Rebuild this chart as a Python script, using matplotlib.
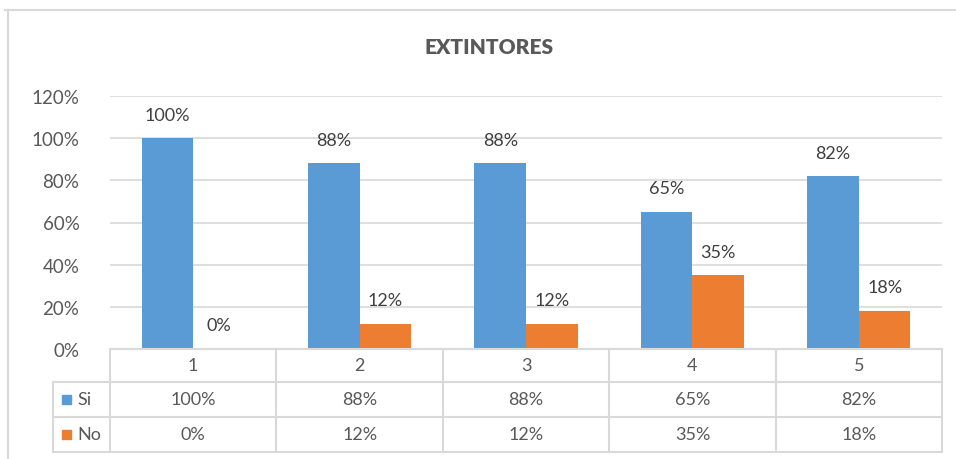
import numpy as np
import matplotlib.pyplot as plt
from matplotlib.patches import Rectangle
from matplotlib.lines import Line2D
import matplotlib.transforms as mtrans

plt.rcParams['font.family'] = ['Lato', 'DejaVu Sans']

# --- datos ---
categorias = ['1', '2', '3', '4', '5']
si = [1.00, 0.88, 0.88, 0.65, 0.82]
no = [0.00, 0.12, 0.12, 0.35, 0.18]
series = ['Si', 'No']
titulo = 'EXTINTORES'

azul = '#5B9BD5'
naranja = '#ED7D31'
gris = '#D9D9D9'
texto = '#595959'
W, H = 956, 460
fs = 13

fig = plt.figure(figsize=(W / 100, H / 100), dpi=100)

def fx(px):
    return px / W

def fy(py):
    return 1 - py / H

# area del grafico (pixeles de la referencia)
x0, x1, y0, y1 = 110, 942, 350, 97
ax = fig.add_axes([fx(x0), fy(y0), fx(x1 - x0), fy(y1) - fy(y0)])

x = np.arange(len(categorias))
ancho = 0.31
b1 = ax.bar(x - ancho / 2, si, ancho, color=azul, zorder=3)
b2 = ax.bar(x + ancho / 2, no, ancho, color=naranja, zorder=3)

for barras, vals in [(b1, si), (b2, no)]:
    for rect, v in zip(barras, vals):
        ax.annotate(f'{v:.0%}', (rect.get_x() + rect.get_width() / 2, v),
                    xytext=(0, 17), textcoords='offset points',
                    ha='center', va='center', fontsize=fs, color='#404040')

ax.set_xlim(-0.5, len(categorias) - 0.5)
ax.set_ylim(0, 1.2)
ax.set_yticks(np.arange(0, 1.21, 0.2))
ax.set_yticklabels([f'{t:.0%}' for t in np.arange(0, 1.21, 0.2)])
ax.tick_params(axis='y', length=0, pad=22, labelsize=13.5, labelcolor=texto)
ax.set_xticks([])
ax.grid(axis='y', color=gris, linewidth=1.2, zorder=0)
for s in ax.spines.values():
    s.set_visible(False)

fig.text(fx(489), fy(48), titulo, ha='center', va='center',
         fontsize=15, fontweight='heavy', color=texto)

# --- tabla de datos ---
tr = mtrans.blended_transform_factory(ax.transData, fig.transFigure)
r0, r1, r2, r3 = 350, 383, 418, 453
xl = -0.5 - (x0 - 53) / ((x1 - x0) / len(categorias))  # borde izquierdo leyenda
bordes = np.arange(len(categorias) + 1) - 0.5

def hline(xa, xb, py):
    fig.add_artist(Line2D([xa, xb], [fy(py), fy(py)], transform=tr,
                          color=gris, linewidth=1.5))

def vline(xv, pa, pb):
    fig.add_artist(Line2D([xv, xv], [fy(pa), fy(pb)], transform=tr,
                          color=gris, linewidth=1.5))

hline(bordes[0], bordes[-1], r0)
for py in (r1, r2, r3):
    hline(xl, bordes[-1], py)
for b in bordes:
    vline(b, r0, r3)
vline(xl, r1, r3)

for i, c in enumerate(categorias):
    fig.text(i, fy((r0 + r1) / 2), c, transform=tr, ha='center', va='center',
             fontsize=fs, color=texto)
    fig.text(i, fy((r1 + r2) / 2), f'{si[i]:.0%}', transform=tr, ha='center',
             va='center', fontsize=fs, color=texto)
    fig.text(i, fy((r2 + r3) / 2), f'{no[i]:.0%}', transform=tr, ha='center',
             va='center', fontsize=fs, color=texto)

for nombre, col, (pa, pb) in zip(series, [azul, naranja], [(r1, r2), (r2, r3)]):
    pc = (pa + pb) / 2
    fig.add_artist(Rectangle((fx(62), fy(pc + 4.5)), fx(9), fy(pc - 4.5) - fy(pc + 4.5),
                             transform=fig.transFigure, color=col))
    fig.text(fx(77), fy(pc), nombre, ha='left', va='center', fontsize=fs, color=texto)

# borde exterior
fig.add_artist(Line2D([fx(5), 1], [fy(11), fy(11)], transform=fig.transFigure,
                      color=gris, linewidth=1.5))
fig.add_artist(Line2D([fx(8), fx(8)], [fy(11), 0], transform=fig.transFigure,
                      color=gris, linewidth=1.5))

fig.savefig('out.png', dpi=100)
